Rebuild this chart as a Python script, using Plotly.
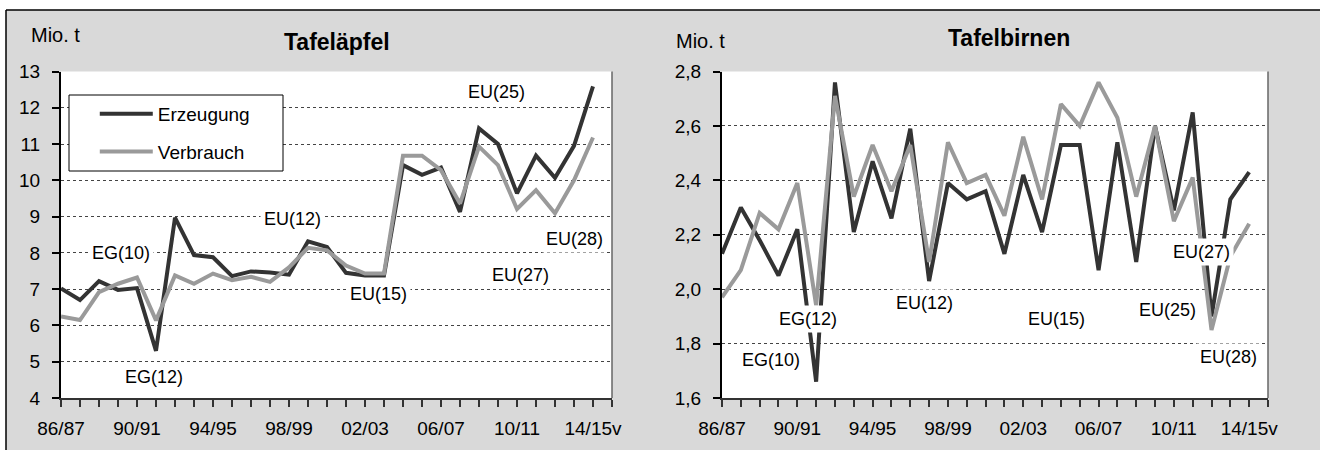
import plotly.graph_objects as go

# ---------------- data ----------------
seasons = ["86/87", "87/88", "88/89", "89/90", "90/91", "91/92", "92/93", "93/94",
           "94/95", "95/96", "96/97", "97/98", "98/99", "99/00", "00/01", "01/02",
           "02/03", "03/04", "04/05", "05/06", "06/07", "07/08", "08/09", "09/10",
           "10/11", "11/12", "12/13", "13/14", "14/15v"]

apfel_erzeugung = [7.02, 6.70, 7.22, 6.98, 7.03, 5.30, 8.97, 7.94, 7.88, 7.36,
                   7.49, 7.46, 7.40, 8.32, 8.16, 7.45, 7.38, 7.38, 10.42, 10.15,
                   10.35, 9.13, 11.43, 11.00, 9.64, 10.68, 10.07, 10.95, 12.59]
apfel_verbrauch = [6.25, 6.15, 6.92, 7.15, 7.32, 6.14, 7.38, 7.15, 7.43, 7.25,
                   7.34, 7.20, 7.60, 8.14, 8.07, 7.65, 7.43, 7.43, 10.68, 10.68,
                   10.28, 9.36, 10.93, 10.42, 9.21, 9.73, 9.09, 10.00, 11.18]

birnen_erzeugung = [2.13, 2.30, 2.18, 2.05, 2.22, 1.66, 2.76, 2.21, 2.47, 2.26,
                    2.59, 2.03, 2.39, 2.33, 2.36, 2.13, 2.42, 2.21, 2.53, 2.53,
                    2.07, 2.54, 2.10, 2.60, 2.29, 2.65, 1.90, 2.33, 2.43]
birnen_verbrauch = [1.97, 2.07, 2.28, 2.22, 2.39, 1.94, 2.71, 2.34, 2.53, 2.36,
                    2.53, 2.10, 2.54, 2.39, 2.42, 2.27, 2.56, 2.33, 2.68, 2.60,
                    2.76, 2.63, 2.34, 2.60, 2.25, 2.41, 1.85, 2.12, 2.24]

series_names = ["Erzeugung", "Verbrauch"]
panel_titles = ["Tafeläpfel", "Tafelbirnen"]
unit_label = "Mio. t"

apfel_eras = ["EG(10)", "EG(12)", "EU(12)", "EU(15)", "EU(25)", "EU(27)", "EU(28)"]
birnen_eras = ["EG(10)", "EG(12)", "EU(12)", "EU(15)", "EU(25)", "EU(27)", "EU(28)"]

# ---------------- styling / layout helpers ----------------
W, H = 1320, 450
FONT = "Liberation Sans, Arial, sans-serif"
DARK = "#333333"
GREY = "#9a9a9a"

def px(x):
    return x / W

def py(y):
    return 1 - y / H

x_idx = list(range(len(seasons)))
n_slots = len(seasons)  # axis runs one slot past the last season
tickvals = list(range(n_slots + 1))
ticktext = [(seasons[i] if (i < len(seasons) and i % 4 == 0) else "") for i in tickvals]

fig = go.Figure()

fig.add_trace(go.Scatter(x=x_idx, y=apfel_erzeugung, name=series_names[0], mode="lines",
                         line=dict(color=DARK, width=4), xaxis="x", yaxis="y",
                         legendgroup="a"))
fig.add_trace(go.Scatter(x=x_idx, y=apfel_verbrauch, name=series_names[1], mode="lines",
                         line=dict(color=GREY, width=4), xaxis="x", yaxis="y",
                         legendgroup="b"))
fig.add_trace(go.Scatter(x=x_idx, y=birnen_erzeugung, name=series_names[0], mode="lines",
                         line=dict(color=DARK, width=4), xaxis="x2", yaxis="y2",
                         showlegend=False))
fig.add_trace(go.Scatter(x=x_idx, y=birnen_verbrauch, name=series_names[1], mode="lines",
                         line=dict(color=GREY, width=4), xaxis="x2", yaxis="y2",
                         showlegend=False))

ydom = [py(398), py(71.5)]

xcommon = dict(range=[0, n_slots], tickmode="array", tickvals=tickvals, ticktext=ticktext,
               showline=True, linecolor="#333333", linewidth=2, ticks="outside",
               ticklen=7, tickwidth=2, tickcolor="#333333", showgrid=False,
               zeroline=False, tickfont=dict(family=FONT, size=19, color="black"),
               ticklabelstandoff=5, fixedrange=True, automargin=False)
ycommon = dict(showline=True, linecolor="black", linewidth=2, ticks="outside",
               ticklen=7, tickwidth=2, tickcolor="black", showgrid=True,
               gridcolor="#444444", griddash="dot", gridwidth=1, zeroline=False,
               tickfont=dict(family=FONT, size=19, color="black"),
               ticklabelstandoff=8, fixedrange=True, automargin=False)

fig.update_layout(
    xaxis=dict(domain=[px(61), px(612)], anchor="y", **xcommon),
    yaxis=dict(domain=ydom, anchor="x", range=[4, 13], dtick=1, **ycommon),
    xaxis2=dict(domain=[px(722), px(1268)], anchor="y2", **xcommon),
    yaxis2=dict(domain=ydom, anchor="x2", range=[1.6, 2.8], dtick=0.2,
                tickformat=".1f", **ycommon),
)

shapes = [
    # white area outside the frame
    dict(type="rect", xref="paper", yref="paper", x0=0, x1=1, y0=py(10), y1=1,
         fillcolor="white", line=dict(width=0), layer="below"),
    dict(type="rect", xref="paper", yref="paper", x0=0, x1=px(6), y0=0, y1=1,
         fillcolor="white", line=dict(width=0), layer="below"),
    # frame lines
    dict(type="line", xref="paper", yref="paper", x0=px(6), x1=1, y0=py(10), y1=py(10),
         line=dict(color="black", width=1.5)),
    dict(type="line", xref="paper", yref="paper", x0=px(6), x1=px(6), y0=0, y1=py(10),
         line=dict(color="black", width=1.5)),
    # right borders of plot areas
    dict(type="line", xref="x domain", yref="y domain", x0=1, x1=1, y0=0, y1=1,
         line=dict(color="#666666", width=1.5)),
    dict(type="line", xref="x2 domain", yref="y2 domain", x0=1, x1=1, y0=0, y1=1,
         line=dict(color="#666666", width=1.5)),
    # legend box
    dict(type="rect", xref="paper", yref="paper", x0=px(69), x1=px(283),
         y0=py(171), y1=py(95), fillcolor="white",
         line=dict(color="black", width=1), layer="above"),
]

annotations = []
# titles and unit labels
def paper_text(text, x, y, size):
    return dict(text=text, xref="paper", yref="paper", x=px(x), y=py(y),
                xanchor="center", yanchor="middle", showarrow=False,
                font=dict(family=FONT, size=size, color="black"))

annotations.append(paper_text("<b>" + panel_titles[0] + "</b>", 337, 42, 23))
annotations.append(paper_text("<b>" + panel_titles[1] + "</b>", 1009, 38, 23))
annotations.append(paper_text(unit_label, 55, 35, 20))
annotations.append(paper_text(unit_label, 700, 41, 20))

apfel_pos = [(3.17, 8.0), (4.88, 4.57), (12.19, 8.93), (16.73, 6.86),
             (22.94, 12.43), (24.2, 7.38), (27.03, 8.39)]
birnen_pos = [(2.58, 1.738), (4.55, 1.89), (10.74, 1.949), (17.75, 1.892),
              (23.68, 1.923), (25.45, 2.138), (26.88, 1.749)]

for txt, (xx, yy) in zip(apfel_eras, apfel_pos):
    annotations.append(dict(text=txt, x=xx, y=yy, xref="x", yref="y", showarrow=False,
                            xanchor="center", yanchor="middle",
                            bgcolor="white", borderpad=3,
                            font=dict(family=FONT, size=18, color="black")))
for txt, (xx, yy) in zip(birnen_eras, birnen_pos):
    annotations.append(dict(text=txt, x=xx, y=yy, xref="x2", yref="y2", showarrow=False,
                            xanchor="center", yanchor="middle",
                            bgcolor="white", borderpad=3,
                            font=dict(family=FONT, size=18, color="black")))

fig.update_layout(
    width=W, height=H,
    margin=dict(l=0, r=0, t=0, b=0),
    paper_bgcolor="#d9d9d9",
    plot_bgcolor="white",
    separators=",.",
    font=dict(family=FONT, size=18, color="black"),
    shapes=shapes,
    annotations=annotations,
    showlegend=True,
    legend=dict(x=px(72), y=py(95), xanchor="left", yanchor="top",
                bgcolor="rgba(0,0,0,0)", borderwidth=0,
                font=dict(family=FONT, size=19, color="black"),
                itemwidth=53, tracegroupgap=10, traceorder="grouped",
                title=dict(text="&nbsp;&nbsp;", side="left")),
)

fig.write_html("out.html", config={"displayModeBar": False},
               post_script="document.body.style.margin='0';document.body.style.padding='0';")
